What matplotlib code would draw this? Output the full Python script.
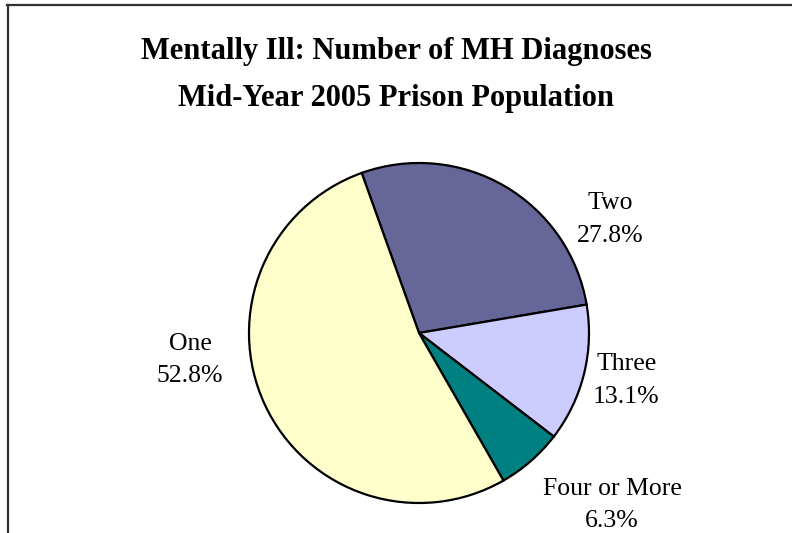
import matplotlib
matplotlib.use("Agg")
import matplotlib.pyplot as plt
from matplotlib.lines import Line2D

# Number of mental-health diagnoses, mid-year 2005 prison population
CATEGORIES = ["Two", "Three", "Four or More", "One"]
PERCENTS = [27.8, 13.1, 6.3, 52.8]
COLORS = ["#666699", "#CCCCFF", "#008080", "#FFFFCC"]

# label centres in pie-radius units (Excel-style placement)
LABEL_POS = [(1.124, 0.668), (1.22, -0.28), (1.135, -1.012), (-1.347, -0.159)]

W, H = 792, 533
plt.rcParams["font.family"] = ["Liberation Serif", "DejaVu Serif"]

fig = plt.figure(figsize=(W / 100, H / 100), dpi=100)

# pie centre at (419, 333) px from top-left, radius 170 px
R = 170
cx, cy = 419, 333
ax = fig.add_axes([(cx - R) / W, (H - cy - R) / H, 2 * R / W, 2 * R / H])
wedges, texts = ax.pie(
    PERCENTS,
    colors=COLORS,
    startangle=109.7,
    counterclock=False,
    labels=[f"{c}\n{p:.1f}%" for c, p in zip(CATEGORIES, PERCENTS)],
    wedgeprops=dict(edgecolor="black", linewidth=1.6),
    textprops=dict(fontsize=18.5, linespacing=1.6),
)
for t, (x, y) in zip(texts, LABEL_POS):
    t.set_position((x, y))
    t.set_ha("center")
    t.set_va("center")
ax.set_xlim(-1, 1)
ax.set_ylim(-1, 1)
ax.set_aspect("equal")
ax.axis("off")

fig.text(396 / W, 1 - 59 / H, "Mentally Ill: Number of MH Diagnoses",
         ha="center", va="baseline", fontsize=22, fontweight="bold")
fig.text(396 / W, 1 - 106 / H, "Mid-Year 2005 Prison Population",
         ha="center", va="baseline", fontsize=22, fontweight="bold")

# chart-area border (cropped at right and bottom)
fig.add_artist(Line2D([7.5 / W, 7.5 / W], [0, 1 - 5 / H], color="#333333",
                      lw=1.6, transform=fig.transFigure))
fig.add_artist(Line2D([7 / W, 1], [1 - 5 / H, 1 - 5 / H], color="#333333",
                      lw=1.6, transform=fig.transFigure))

fig.savefig("out.png", dpi=100)
